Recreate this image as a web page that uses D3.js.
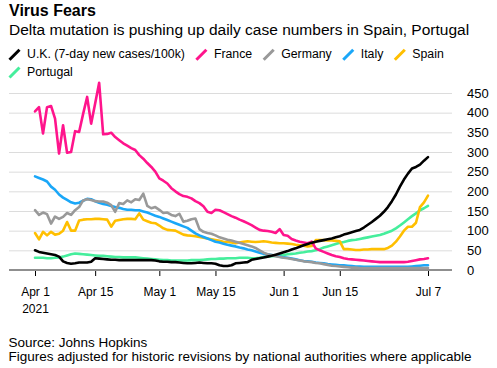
<!DOCTYPE html>
<html><head><meta charset="utf-8">
<script src="https://cdn.jsdelivr.net/npm/d3@7"></script>
<style>
body{margin:0;background:#fff;}
svg text{font-family:"Liberation Sans",Arial,Helvetica,sans-serif;fill:#000;}
</style></head><body>
<svg id="chart" width="497" height="368"></svg>
<script>
// ---- data ----
const seriesNames = ["U.K. (7-day new cases/100k)", "France", "Germany", "Italy", "Spain", "Portugal"];
const seriesColors = ["#000000", "#ff148c", "#999999", "#1aa7f8", "#ffbf00", "#45ee9c"];
const tickDates = ["2021-03-31", "2021-04-15", "2021-05-01", "2021-05-15", "2021-06-01", "2021-06-15", "2021-07-07"];
const tickLabels = ["Apr 1", "Apr 15", "May 1", "May 15", "Jun 1", "Jun 15", "Jul 7"];
const yTicks = [0, 50, 100, 150, 200, 250, 300, 350, 400, 450];

const ukValues = [50,46,44,42,40,38,34,22,18,16,
 17,19,19,19,21,30,29,28,27,26,
 26,25,25,25,25,25,25,25,25,25,
 24,22,21,21,20,20,19,18,17,17,
 18,19,18,17,17,16,12,10,10,12,
 17,18,19,20,26,28,30,32,34,36,
 39,42,45,48,52,55,59,63,66,69,
 72,74,76,78,80,83,86,90,93,96,
 99,102,108,115,122,130,138,148,160,175,
 192,212,230,245,258,262,268,278,287];
const franceValues = [403,414,347,414,417,385,296,368,298,300,
 353,351,397,440,372,423,476,345,346,349,
 338,330,322,316,310,305,292,283,272,262,
 250,233,227,220,208,200,193,188,186,182,
 175,170,162,148,145,153,152,147,142,137,
 133,128,124,119,114,108,102,100,99,97,
 94,104,89,87,79,75,72,70,68,72,
 55,50,46,42,38,35,33,30,28,27,
 26,25,24,23,22,21,20,20,20,20,
 20,20,20,21,23,25,27,28,30];
const germanyValues = [152,140,146,142,118,136,130,135,145,140,
 152,160,177,180,178,175,174,174,171,165,
 148,170,168,177,172,180,178,194,163,157,
 160,153,145,146,140,137,143,123,125,129,
 131,104,97,94,92,88,83,80,77,75,
 72,69,66,63,60,56,50,44,40,38,
 35,33,31,30,28,26,24,22,21,20,
 18,17,15,13,11,10,9,8,7,6,
 6,5,5,5,5,5,5,5,5,5,
 5,5,5,5,5,5,5,5,5];
const italyValues = [238,234,230,225,212,204,192,184,178,172,
 169,171,176,181,180,175,171,168,166,163,
 160,158,155,153,153,152,152,149,146,142,
 138,135,131,127,123,119,115,111,107,100,
 93,88,84,80,76,72,70,67,64,62,
 60,57,55,52,50,47,44,41,40,38,
 36,34,32,31,29,27,25,23,22,21,
 19,18,17,15,14,13,12,12,11,10,
 9,9,8,8,8,8,8,8,8,8,
 8,8,8,8,9,10,11,12,12];
const spainValues = [94,78,97,88,97,90,92,100,122,100,
 100,126,128,129,129,130,130,129,128,110,
 125,127,129,130,130,129,144,128,124,120,
 119,113,106,102,101,100,95,90,88,87,
 86,84,82,80,78,76,74,72,71,70,
 68,70,72,73,72,71,72,73,72,70,
 69,68,68,67,66,64,63,62,60,61,
 76,76,76,75,75,74,73,53,53,52,
 51,51,52,52,53,53,53,53,56,62,
 72,85,100,110,110,120,160,172,189];
const portugalValues = [31,31,31,30,30,31,32,34,37,40,
 42,41,40,39,38,37,36,36,35,34,
 33,33,32,32,32,32,31,30,29,28,
 27,26,25,25,24,24,24,24,24,25,
 25,25,26,27,28,28,29,29,30,30,
 30,31,31,31,30,30,31,33,34,35,
 36,37,38,40,41,42,44,45,47,48,
 50,53,57,60,63,66,69,71,74,76,
 77,79,81,83,85,87,89,92,96,100,
 106,113,121,129,137,144,152,157,163];

const allValues = [ukValues, franceValues, germanyValues, italyValues, spainValues, portugalValues];
const parse = d3.timeParse("%Y-%m-%d");
const dates = d3.timeDay.range(parse("2021-03-31"), d3.timeDay.offset(parse("2021-07-07"), 1));

// ---- layout ----
const svg = d3.select("#chart");
const font = '"Liberation Sans",Arial,Helvetica,sans-serif';
const plotLeft = 9, plotRight = 452;
const x = d3.scaleTime().domain([dates[0], dates[dates.length - 1]]).range([35, 428]);
const y = d3.scaleLinear().domain([0, 450]).range([270, 93]);

// title
svg.append("text").attr("x", 9).attr("y", 16).style("font-size", "16px").style("font-weight", "bold").text("Virus Fears");
svg.append("text").attr("x", 9).attr("y", 35).style("font-size", "15.5px").text("Delta mutation is pushing up daily case numbers in Spain, Portugal");

// legend (flow layout)
const legend = svg.append("g");
let lx = 9, row = 0;
const rowBase = [58.3, 76];
seriesNames.forEach((name, i) => {
  const g = legend.append("g");
  const t = g.append("text").attr("x", 18).attr("y", 0).style("font-size", "12.3px").text(name);
  const w = t.node().getComputedTextLength();
  if (lx + 18 + w > 490) { lx = 9; row += 1; }
  g.attr("transform", `translate(${lx},${rowBase[row]})`);
  g.append("line").attr("x1", 0.5).attr("y1", 1.5).attr("x2", 10.5).attr("y2", -8.5)
    .attr("stroke", seriesColors[i]).attr("stroke-width", 3);
  lx += 18 + w + 11;
});

// y axis with gridlines
const yAxis = d3.axisRight(y).tickValues(yTicks).tickSize(-(plotRight - plotLeft)).tickPadding(15);
const gy = svg.append("g").attr("transform", `translate(${plotRight},0)`).call(yAxis);
gy.select(".domain").remove();
gy.selectAll(".tick line").attr("stroke", "#dcdcdc").attr("stroke-width", 1);
gy.selectAll(".tick text").style("font-size", "13px").style("font-family", font).attr("fill", "#000");

// x axis
const tickDateObjs = tickDates.map(parse);
const xAxis = d3.axisBottom(x).tickValues(tickDateObjs).tickFormat((d, i) => tickLabels[i]).tickSize(6).tickPadding(11);
const gx = svg.append("g").attr("transform", `translate(0,${y(0)})`).call(xAxis);
gx.select(".domain").remove();
gx.selectAll(".tick line").attr("stroke", "#000").attr("stroke-width", 1);
gx.selectAll(".tick text").style("font-size", "12px").style("font-family", font).attr("fill", "#000");
gx.select(".tick text").clone(true).attr("dy", null).attr("y", 43).text("2021");
// baseline
svg.append("line").attr("x1", plotLeft).attr("x2", plotRight).attr("y1", y(0)).attr("y2", y(0))
  .attr("stroke", "#8f8f8f").attr("stroke-width", 2);

// lines (draw Portugal first, U.K. last)
const line = d3.line().x((d, i) => x(dates[i])).y(d => y(d)).curve(d3.curveLinear);
const gl = svg.append("g");
for (let i = allValues.length - 1; i >= 0; i--) {
  gl.append("path").datum(allValues[i]).attr("d", line).attr("fill", "none")
    .attr("stroke", seriesColors[i]).attr("stroke-width", 2.6)
    .attr("stroke-linejoin", "round").attr("stroke-linecap", "round");
}

// source
svg.append("text").attr("x", 8.5).attr("y", 347).style("font-size", "13.5px").text("Source: Johns Hopkins");
svg.append("text").attr("x", 8.5).attr("y", 361).style("font-size", "13.5px").text("Figures adjusted for historic revisions by national authorities where applicable");
</script>
</body></html>
